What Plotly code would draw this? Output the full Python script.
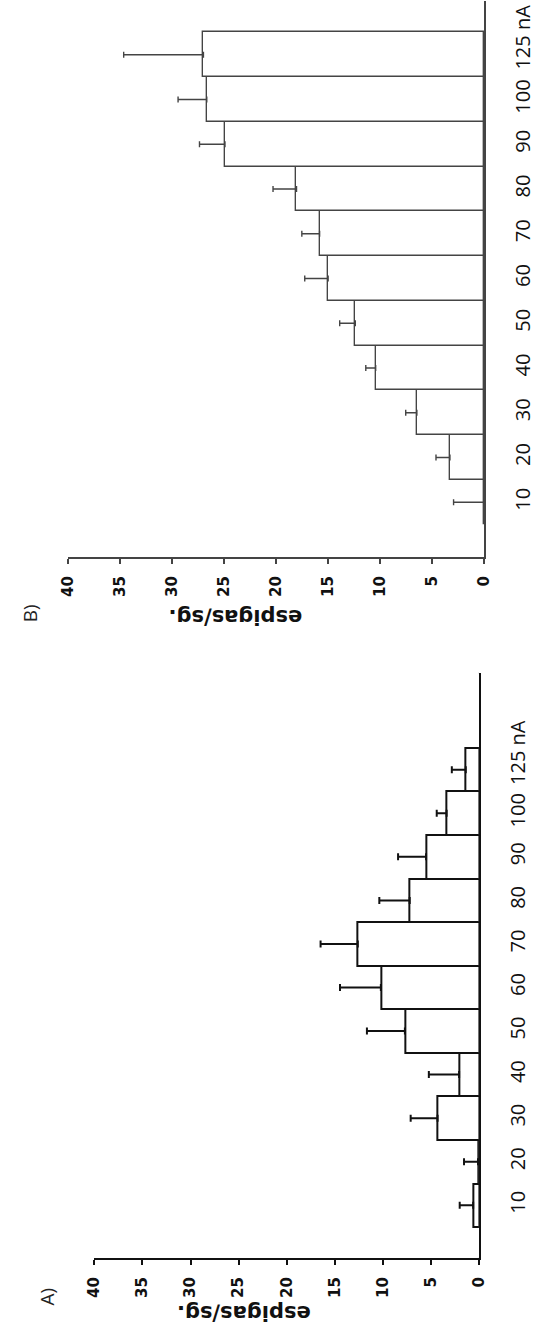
import plotly.graph_objects as go

# ---- data ----
categories = ["10", "20", "30", "40", "50", "60", "70", "80", "90", "100", "125 nA"]
value_ticks = [0, 5, 10, 15, 20, 25, 30, 35, 40]

# Panel A (espigas/sg.)
a_mean = [0.6, 0.1, 4.3, 2.06, 7.7, 10.2, 12.6, 7.2, 5.5, 3.36, 1.37]
a_err = [1.4, 1.45, 2.8, 3.15, 3.95, 4.25, 3.87, 3.16, 2.91, 1.03, 1.45]

# Panel B (espigas/sg.)
b_mean = [0.0, 3.28, 6.46, 10.42, 12.38, 14.99, 15.81, 18.03, 24.91, 26.66, 26.98]
b_err = [2.93, 1.34, 1.07, 0.95, 1.5, 2.25, 1.71, 2.26, 2.45, 2.76, 7.67]

positions = list(range(len(categories)))
# the unit " nA" hangs past the last number, so the number itself stays centred on its bar
label_positions = positions[:-1] + [positions[-1] + 0.32]

W, H = 536, 1333


def px(x):
    return x / W


def py(y):
    return 1 - y / H


fig = go.Figure()

fig.add_trace(go.Bar(
    x=a_mean, y=positions, orientation="h", width=1,
    marker=dict(color="white", line=dict(color="#111111", width=2)),
    error_x=dict(type="data", array=a_err, arrayminus=[0] * len(a_err),
                 symmetric=False, color="#111111", thickness=2, width=3.5),
    xaxis="x", yaxis="y", showlegend=False, hoverinfo="skip",
))

fig.add_trace(go.Bar(
    x=b_mean, y=positions, orientation="h", width=1,
    marker=dict(color="white", line=dict(color="#444444", width=1.4)),
    error_x=dict(type="data", array=b_err, arrayminus=[0] * len(b_err),
                 symmetric=False, color="#444444", thickness=1.4, width=3),
    xaxis="x2", yaxis="y2", showlegend=False, hoverinfo="skip",
))

val_font = dict(family="DejaVu Sans", size=15, color="#111111", weight="bold")
cat_font = dict(family="Open Sans", size=20, color="#111111")

common_x = dict(
    tickvals=value_ticks, ticktext=[str(v) for v in value_ticks],
    range=[40, 0], ticks="outside", ticklen=5, showline=True,
    showgrid=False, zeroline=False, tickangle=-90, tickfont=val_font,
    ticklabelstandoff=6,
)
common_y = dict(
    tickvals=label_positions, ticktext=categories, side="right", showline=True,
    showgrid=False, zeroline=False, ticks="", tickangle=-90, tickfont=cat_font,
    ticklabelstandoff=20,
)

fig.update_layout(
    width=W, height=H,
    margin=dict(l=0, r=0, t=0, b=0),
    paper_bgcolor="white", plot_bgcolor="white",
    bargap=0,
    xaxis=dict(domain=[px(88.5), px(487.2)], anchor="y",
               linecolor="#111111", linewidth=2, tickcolor="#111111", tickwidth=2,
               **common_x),
    yaxis=dict(domain=[py(1258), py(673)], anchor="x", range=[-1.21, 12.22],
               linecolor="#111111", linewidth=2, **common_y),
    xaxis2=dict(domain=[px(61.2), px(492.5)], anchor="y2",
                linecolor="#444444", linewidth=1.5, tickcolor="#444444", tickwidth=1.5,
                **common_x),
    yaxis2=dict(domain=[py(557.3), py(1)], anchor="x2", range=[-1.23, 11.2],
                linecolor="#444444", linewidth=1.5, **common_y),
)

# small axis end hooks (Prism-style)
for xr, yr, col, lw in [("x", "y", "#111111", 2), ("x2", "y2", "#444444", 1.5)]:
    fig.add_shape(type="line", xref=xr, yref=yr + " domain", x0=0, x1=-0.7, y0=1, y1=1,
                  line=dict(color=col, width=lw))
    fig.add_shape(type="line", xref=xr, yref=yr + " domain", x0=0, x1=-0.7, y0=0, y1=0,
                  line=dict(color=col, width=lw))

title_font = dict(family="DejaVu Sans", size=21, color="#111111", weight="bold")
fig.add_annotation(text="espigas/sg.", x=px(243), y=py(1313), xref="paper", yref="paper",
                   showarrow=False, textangle=180, font=title_font,
                   xanchor="center", yanchor="middle")
fig.add_annotation(text="espigas/sg.", x=px(235), y=py(617), xref="paper", yref="paper",
                   showarrow=False, textangle=180, font=title_font,
                   xanchor="center", yanchor="middle")

panel_font = dict(family="Open Sans", size=19, color="#222222")
fig.add_annotation(text="A)", x=px(39), y=py(1297), xref="paper", yref="paper",
                   showarrow=False, textangle=-90, font=panel_font,
                   xanchor="center", yanchor="middle")
fig.add_annotation(text="B)", x=px(22), y=py(613), xref="paper", yref="paper",
                   showarrow=False, textangle=-90, font=panel_font,
                   xanchor="center", yanchor="middle")

fig.write_html("out.html")
